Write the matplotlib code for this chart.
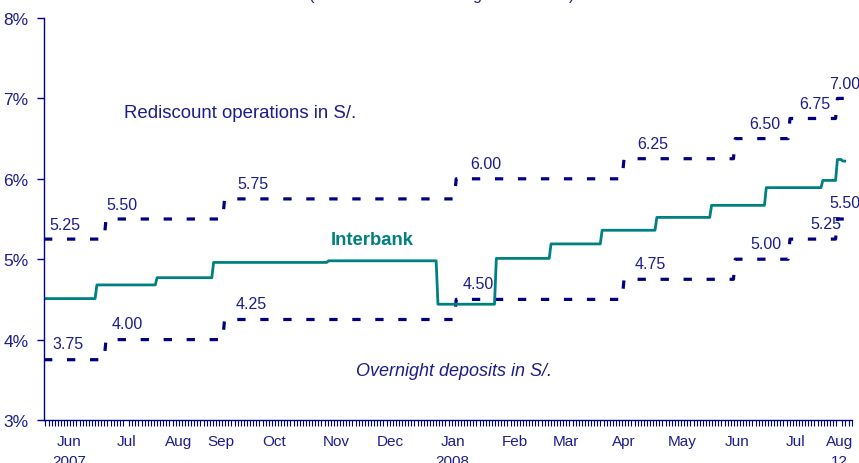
import numpy as np
import pandas as pd
import matplotlib
matplotlib.use('Agg')
import matplotlib.pyplot as plt
import matplotlib.dates as mdates
from matplotlib.ticker import FixedLocator, NullFormatter

plt.rcParams['font.family'] = ['Liberation Sans', 'DejaVu Sans']

navy = '#000080'
text_navy = '#1c1c8c'
teal = '#008080'

# corridor (rediscount / overnight deposits), step dates
corridor_dates = ['2007-05-28', '2007-07-01', '2007-09-04', '2008-01-09',
                  '2008-04-10', '2008-06-10', '2008-07-10', '2008-08-05']
rediscount_rate = [5.25, 5.50, 5.75, 6.00, 6.25, 6.50, 6.75, 7.00]
overnight_rate = [3.75, 4.00, 4.25, 4.50, 4.75, 5.00, 5.25, 5.50]
corridor_end = '2008-08-12'

# interbank rate, step dates
ib_dates = ['2007-05-28', '2007-06-26', '2007-07-29', '2007-08-29', '2007-10-31',
            '2007-12-30', '2008-01-31', '2008-03-01', '2008-03-29', '2008-04-28',
            '2008-05-28', '2008-06-27', '2008-07-28', '2008-08-05', '2008-08-08']
ib_rate = [4.51, 4.68, 4.77, 4.96, 4.98, 4.44, 5.01, 5.19, 5.36, 5.52,
           5.67, 5.89, 5.98, 6.24, 6.22]
ib_end = '2008-08-09'

# month labels on the axis
month_dates = ['2007-06-11', '2007-07-12', '2007-08-10', '2007-09-02', '2007-10-01',
               '2007-11-04', '2007-12-04', '2008-01-07', '2008-02-10', '2008-03-09',
               '2008-04-10', '2008-05-12', '2008-06-11', '2008-07-13', '2008-08-06']
month_labels = ['Jun\n2007', 'Jul', 'Aug', 'Sep', 'Oct', 'Nov', 'Dec', 'Jan\n2008',
                'Feb', 'Mar', 'Apr', 'May', 'Jun', 'Jul', 'Aug\n12']


def daily_steps(dates, values, end):
    s = pd.Series(values, index=pd.to_datetime(dates))
    idx = pd.date_range(dates[0], end, freq='D')
    return s.reindex(idx).ffill()


redisc = daily_steps(corridor_dates, rediscount_rate, corridor_end)
overn = daily_steps(corridor_dates, overnight_rate, corridor_end)
inter = daily_steps(ib_dates, ib_rate, ib_end)

fig = plt.figure(figsize=(8.59, 4.64), dpi=100)
ax = fig.add_axes([44 / 859, 43 / 464, 808 / 859, 402 / 464])

dash_kw = dict(color=navy, lw=2.3, dashes=(2.6, 4.6), solid_capstyle='butt',
               dash_capstyle='butt')
ax.plot(redisc.index, redisc.values, **dash_kw)
ax.plot(overn.index, overn.values, **dash_kw)
ax.plot(inter.index, inter.values, color=teal, lw=2.0)

# value labels on each corridor step
red_dx = [5, 0, 13, 14, 13, 14, 9, -8]
ovn_dx = [8, 6, 11, 6, 11, 15, 20, -8]
for d, r, o, dxr, dxo in zip(corridor_dates, rediscount_rate, overnight_rate, red_dx, ovn_dx):
    x = mdates.date2num(pd.Timestamp(d))
    ax.annotate(f'{r:.2f}', (x, r), xytext=(dxr, 15), textcoords='offset pixels',
                ha='left', va='center', fontsize=11.5, color=text_navy)
    ax.annotate(f'{o:.2f}', (x, o), xytext=(dxo, 16), textcoords='offset pixels',
                ha='left', va='center', fontsize=11.5, color=text_navy)

ax.text(mdates.date2num(pd.Timestamp('2007-07-11')), 6.82, 'Rediscount operations in S/.',
        fontsize=13.4, color=text_navy, va='center', ha='left')
ax.text(mdates.date2num(pd.Timestamp('2007-11-01')), 5.24, 'Interbank',
        fontsize=13.3, color=teal, fontweight='bold', va='center', ha='left')
ax.text(mdates.date2num(pd.Timestamp('2007-11-15')), 3.62, 'Overnight deposits in S/.',
        fontsize=13.0, color=text_navy, style='italic', va='center', ha='left')

ax.set_ylim(3, 8)
x0, x1 = pd.Timestamp('2007-05-28'), pd.Timestamp('2008-08-13')
ax.set_xlim(x0, x1)
ax.set_yticks([3, 4, 5, 6, 7, 8])
ax.set_yticklabels([f'{v}%' for v in range(3, 9)])

ax.xaxis.set_major_locator(FixedLocator(mdates.date2num(pd.to_datetime(month_dates))))
ax.set_xticklabels(month_labels)
ax.xaxis.set_minor_locator(FixedLocator(np.arange(mdates.date2num(x0) + 0.8,
                                                  mdates.date2num(x1), 1.7)))
ax.xaxis.set_minor_formatter(NullFormatter())

for s in ['top', 'right']:
    ax.spines[s].set_visible(False)
for s in ['left', 'bottom']:
    ax.spines[s].set_color(navy)
    ax.spines[s].set_linewidth(1.0)

ax.tick_params(axis='y', which='major', direction='out', length=5, width=1,
               colors=navy, labelcolor=text_navy, labelsize=12.5, pad=6)
ax.tick_params(axis='x', which='major', length=0, labelcolor=text_navy,
               labelsize=11, pad=10)
ax.tick_params(axis='x', which='minor', direction='out', length=4, width=0.8,
               colors=navy)
plt.setp(ax.get_xticklabels(), linespacing=1.6, va='top')

fig.text(442 / 859, 1.0, '(Interbank rate and range limits in %)',
         fontsize=11.6, color=text_navy, ha='center', va='baseline')

fig.savefig('out.png', dpi=100)
